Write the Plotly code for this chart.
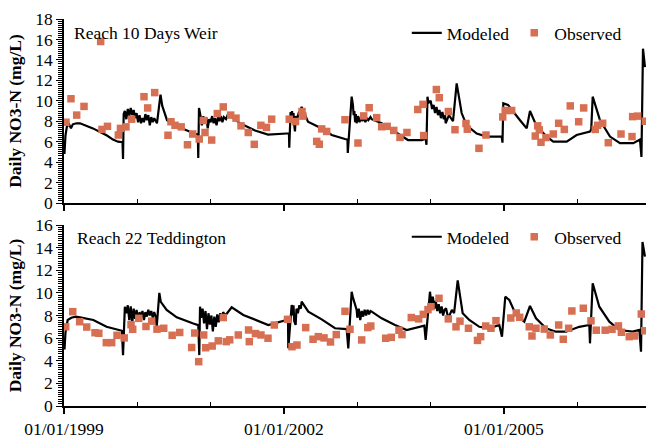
import plotly.graph_objects as go

# ---------------- data (decimal years, NO3-N mg/L) ----------------
# Reach 10 Days Weir - modeled
top_model_year = [
    1999.000, 1999.006, 1999.020, 1999.040, 1999.070, 1999.095, 1999.120, 1999.170, 1999.218,
    1999.395, 1999.586, 1999.668, 1999.736, 1999.798, 1999.805, 1999.814,
    1999.83, 1999.85, 1999.87, 1999.89, 1999.91, 1999.93, 1999.95, 1999.97, 1999.99,
    2000.01, 2000.03, 2000.05, 2000.07, 2000.09, 2000.11, 2000.13, 2000.15, 2000.17,
    2000.19, 2000.21, 2000.23, 2000.25, 2000.268, 2000.316, 2000.34, 2000.405, 2000.541,
    2000.759, 2000.825, 2000.831, 2000.841,
    2000.86, 2000.88, 2000.90, 2000.92, 2000.94, 2000.96, 2000.98, 2001.00, 2001.02,
    2001.04, 2001.06, 2001.08, 2001.10, 2001.12, 2001.14, 2001.16, 2001.18, 2001.21,
    2001.236, 2001.40, 2001.605, 2001.782, 2002.037, 2002.068, 2002.072, 2002.082,
    2002.09, 2002.10, 2002.11, 2002.12, 2002.13, 2002.14, 2002.15, 2002.16, 2002.18,
    2002.20, 2002.22, 2002.241, 2002.327, 2002.514, 2002.651, 2002.832, 2002.866, 2002.870,
    2002.923, 2002.94, 2002.95, 2002.96, 2002.97, 2002.98, 2002.99, 2003.01, 2003.03,
    2003.05, 2003.07, 2003.09, 2003.11, 2003.13, 2003.15, 2003.18, 2003.196, 2003.332,
    2003.514, 2003.691, 2003.878, 2003.932, 2003.943, 2003.957, 2003.97, 2004.00, 2004.02,
    2004.04, 2004.06, 2004.08, 2004.10, 2004.12, 2004.14, 2004.16, 2004.18, 2004.196,
    2004.205, 2004.25, 2004.305, 2004.355, 2004.423, 2004.491, 2004.628, 2004.764, 2004.969,
    2004.980, 2004.991, 2005.055, 2005.219, 2005.310, 2005.355, 2005.446, 2005.583, 2005.673,
    2005.855, 2005.991, 2006.173, 2006.190, 2006.210, 2006.310, 2006.446, 2006.582, 2006.764,
    2006.855, 2006.875, 2006.896, 2006.923,
]
top_model_no3 = [
    6.0, 4.8, 6.6, 7.5, 7.7, 7.3, 7.7, 7.8, 7.8,
    7.3, 6.6, 6.2, 6.0, 5.95, 4.3, 8.7,
    9.0, 8.2, 9.2, 8.5, 9.3, 8.6, 9.1, 8.3, 8.8,
    7.9, 8.6, 7.8, 8.3, 7.9, 8.7, 8.1, 8.6, 7.6,
    8.4, 7.9, 8.3, 8.0, 7.8, 10.6, 9.5, 8.1, 7.5,
    6.85, 6.7, 4.4, 9.3,
    8.6, 7.6, 8.5, 7.8, 8.4, 7.3, 8.2, 7.9, 8.5,
    7.8, 8.3, 7.6, 8.4, 8.0, 8.5, 7.9, 8.4, 8.2,
    8.7, 7.8, 7.1, 6.7, 6.8, 6.8, 5.4, 8.7,
    8.9, 8.3, 9.0, 8.4, 8.8, 7.6, 7.0, 8.5, 8.2,
    8.8, 9.0, 9.4, 7.95, 7.3, 6.65, 6.26, 6.2, 4.9,
    10.4, 9.6, 8.6, 9.0, 7.9, 8.7, 7.8, 8.5, 7.9,
    8.4, 8.0, 8.5, 7.9, 8.3, 8.1, 8.4, 8.2, 7.8,
    7.0, 6.16, 6.16, 6.3, 5.7, 10.4, 9.8, 10.0, 9.2,
    9.6, 8.8, 9.4, 8.6, 9.1, 8.3, 8.9, 8.2, 8.6,
    7.8, 8.6, 8.0, 11.7, 8.8, 7.6, 6.8, 6.5, 6.5,
    5.9, 9.75, 9.6, 8.1, 7.3, 9.0, 7.5, 6.5, 6.0,
    6.0, 6.65, 7.0, 7.2, 10.4, 8.1, 6.5, 5.85, 5.85,
    6.2, 4.5, 15.1, 13.3,
]
# Reach 10 Days Weir - observed
top_obs_year = [
    1999.027, 1999.095, 1999.173, 1999.273, 1999.500, 1999.518, 1999.593, 1999.741, 1999.770,
    1999.845, 1999.923, 2000.091, 2000.141, 2000.237, 2000.418, 2000.459, 2000.514, 2000.598,
    2000.684, 2000.755, 2000.844, 2000.900, 2000.923, 2001.014, 2001.091, 2001.172, 2001.273,
    2001.346, 2001.414, 2001.513, 2001.595, 2001.685, 2001.761, 2001.832, 2002.072, 2002.157,
    2002.246, 2002.259, 2002.446, 2002.482, 2002.514, 2002.582, 2002.832, 2003.009, 2003.087,
    2003.162, 2003.264, 2003.332, 2003.407, 2003.497, 2003.582, 2003.677, 2003.825, 2003.896,
    2003.905, 2004.078, 2004.118, 2004.242, 2004.332, 2004.482, 2004.500, 2004.659, 2004.755,
    2004.983, 2005.017, 2005.105, 2005.427, 2005.460, 2005.482, 2005.505, 2005.573, 2005.673,
    2005.746, 2005.823, 2005.904, 2006.019, 2006.087, 2006.245, 2006.278, 2006.346, 2006.423,
    2006.596, 2006.746, 2006.755, 2006.823, 2006.927,
]
top_obs_no3 = [
    7.9, 10.2, 8.6, 9.45, 15.8, 7.2, 7.5, 6.65, 7.3,
    7.45, 8.2, 10.4, 9.3, 10.8, 6.63, 7.95, 7.6, 7.45,
    5.7, 6.75, 6.26, 8.07, 6.9, 6.16, 8.75, 9.4, 8.6,
    8.3, 7.55, 6.9, 5.74, 7.6, 7.4, 8.2, 8.2, 7.97,
    8.95, 8.5, 6.03, 5.75, 7.25, 7.0, 8.15, 5.87, 8.52,
    9.32, 8.35, 7.46, 7.5, 7.1, 6.42, 6.9, 9.15, 9.65,
    6.6, 11.1, 10.3, 8.95, 7.17, 7.78, 7.22, 5.35, 6.65,
    8.42, 9.05, 9.05, 6.55, 7.55, 7.15, 5.94, 6.4, 6.75,
    7.8, 7.2, 9.5, 7.95, 9.3, 7.2, 7.6, 7.8, 5.9,
    6.75, 6.5, 8.45, 8.5, 8.0,
]

# Reach 22 Teddington - modeled
bot_model_year = [
    1999.000, 1999.007, 1999.020, 1999.050, 1999.100, 1999.160, 1999.220, 1999.400, 1999.580,
    1999.740, 1999.790, 1999.805, 1999.830,
    1999.85, 1999.87, 1999.89, 1999.91, 1999.93, 1999.95, 1999.97, 1999.99, 2000.01,
    2000.03, 2000.05, 2000.07, 2000.09, 2000.11, 2000.13, 2000.15, 2000.17, 2000.19,
    2000.21, 2000.23, 2000.25, 2000.264, 2000.300, 2000.32, 2000.400, 2000.537, 2000.763,
    2000.831, 2000.845, 2000.855,
    2000.87, 2000.89, 2000.91, 2000.93, 2000.95, 2000.97, 2000.99, 2001.01, 2001.03,
    2001.05, 2001.07, 2001.09, 2001.11, 2001.13, 2001.15, 2001.17, 2001.20, 2001.287,
    2001.445, 2001.673, 2001.786, 2002.037, 2002.055, 2002.059, 2002.105,
    2002.12, 2002.13, 2002.14, 2002.159, 2002.17, 2002.19, 2002.21, 2002.23, 2002.241,
    2002.332, 2002.514, 2002.696, 2002.855, 2002.877, 2002.923, 2002.94, 2002.991,
    2003.00, 2003.02, 2003.04, 2003.06, 2003.08, 2003.10, 2003.12, 2003.14, 2003.16,
    2003.18, 2003.196, 2003.332, 2003.514, 2003.673, 2003.878, 2003.914, 2003.932, 2003.991,
    2004.01, 2004.03, 2004.05, 2004.07, 2004.09, 2004.11, 2004.13, 2004.15, 2004.17,
    2004.19, 2004.21, 2004.24, 2004.26, 2004.29, 2004.32, 2004.369, 2004.437, 2004.527,
    2004.664, 2004.800, 2004.936, 2004.973, 2005.018, 2005.073, 2005.164, 2005.277, 2005.355,
    2005.437, 2005.573, 2005.709, 2005.846, 2006.027, 2006.164, 2006.173, 2006.210, 2006.300,
    2006.437, 2006.573, 2006.755, 2006.846, 2006.869, 2006.889, 2006.923,
]
bot_model_no3 = [
    5.8, 5.0, 6.5, 7.6, 7.8, 7.9, 7.84, 7.6, 7.0,
    6.72, 6.65, 4.5, 8.78,
    8.2, 8.9, 7.6, 8.8, 7.3, 8.6, 7.7, 8.5, 7.5,
    8.3, 7.8, 8.4, 7.6, 8.3, 7.9, 8.5, 8.0, 8.4,
    7.8, 8.3, 7.9, 7.0, 10.0, 9.2, 8.5, 7.84, 7.3,
    7.15, 4.5, 8.78,
    7.8, 8.6, 7.3, 8.4, 6.8, 8.2, 7.2, 8.0, 6.6,
    7.9, 7.0, 8.1, 7.4, 8.2, 7.6, 8.3, 8.0, 8.73,
    8.05, 7.45, 7.16, 7.6, 7.5, 5.1, 8.93,
    8.0, 8.9, 7.5, 7.16, 8.6, 8.2, 8.9, 8.6, 9.22,
    8.34, 7.66, 6.87, 6.8, 5.1, 10.1, 9.6, 8.5,
    7.8, 8.6, 7.6, 8.4, 7.9, 8.5, 8.0, 8.5, 8.1,
    8.4, 8.34, 7.75, 7.16, 6.72, 7.0, 7.1, 5.84, 10.1,
    9.0, 9.66, 8.6, 9.3, 8.4, 9.0, 8.2, 8.8, 8.0,
    8.5, 8.64, 7.75, 8.05, 8.5, 8.2, 11.1, 8.2, 7.6,
    7.0, 6.87, 7.16, 6.13, 9.66, 9.37, 8.05, 7.45, 8.84,
    7.75, 6.87, 6.57, 6.57, 7.0, 7.16, 5.54, 10.85, 8.78,
    7.45, 6.72, 6.57, 6.72, 4.8, 14.5, 13.2,
]
# Reach 22 Teddington - observed
bot_obs_year = [
    1999.023, 1999.119, 1999.213, 1999.310, 1999.423, 1999.475, 1999.577, 1999.650, 1999.723,
    1999.821, 1999.914, 1999.937, 2000.020, 2000.118, 2000.196, 2000.268, 2000.360, 2000.475,
    2000.578, 2000.741, 2000.782, 2000.837, 2000.905, 2000.932, 2001.021, 2001.104, 2001.172,
    2001.213, 2001.260, 2001.377, 2001.517, 2001.527, 2001.611, 2001.686, 2001.782, 2001.868,
    2002.048, 2002.109, 2002.177, 2002.296, 2002.396, 2002.468, 2002.546, 2002.634, 2002.713,
    2002.832, 2002.900, 2003.060, 2003.143, 2003.184, 2003.387, 2003.464, 2003.568, 2003.609,
    2003.736, 2003.836, 2003.900, 2003.964, 2004.005, 2004.114, 2004.241, 2004.346, 2004.400,
    2004.516, 2004.639, 2004.682, 2004.751, 2004.823, 2004.891, 2005.093, 2005.168, 2005.214,
    2005.345, 2005.382, 2005.437, 2005.550, 2005.632, 2005.746, 2005.809, 2005.882, 2005.926,
    2006.082, 2006.187, 2006.259, 2006.380, 2006.473, 2006.561, 2006.601, 2006.709, 2006.782,
    2006.873, 2006.919,
]
bot_obs_no3 = [
    7.0, 8.34, 7.45, 6.98, 6.48, 6.43, 5.6, 5.6, 6.25,
    6.02, 7.19, 6.78, 7.75, 7.03, 7.5, 6.79, 6.87, 6.25,
    6.5, 5.17, 6.45, 3.92, 6.28, 5.15, 5.3, 5.76, 7.82,
    5.69, 5.85, 6.28, 6.72, 5.69, 6.4, 6.28, 5.99, 7.16,
    7.66, 5.24, 5.39, 6.93, 5.9, 6.13, 6.02, 5.66, 6.31,
    8.37, 6.78, 5.84, 6.93, 7.07, 5.99, 6.07, 6.7, 6.31,
    7.82, 7.7, 8.1, 8.52, 8.78, 9.52, 7.7, 7.0, 7.5,
    6.87, 5.8, 6.13, 7.07, 6.87, 7.54, 7.78, 8.22, 7.84,
    7.0, 6.19, 6.87, 6.8, 6.28, 7.16, 5.9, 6.87, 8.4,
    8.64, 7.53, 6.7, 6.7, 6.78, 7.08, 6.52, 6.13, 6.19,
    8.13, 6.65,
]

panel_titles = ["Reach 10 Days Weir", "Reach 22 Teddington"]
x_tick_years = [1999, 2002, 2005]
x_tick_labels = ["01/01/1999", "01/01/2002", "01/01/2005"]
x_minor_years = [2000, 2001, 2003, 2004, 2006]
y_title = "Daily NO3-N (mg/L)"

# ---------------- style ----------------
FONT = "Liberation Serif, DejaVu Serif, serif"
FS = 17.5
LINE_COLOR = "black"
OBS_COLOR = "#D76F52"
X_RANGE = [1999.0, 2006.937]

fig = go.Figure()
fig.add_trace(go.Scatter(x=top_model_year, y=top_model_no3, mode="lines", name="Modeled",
                         line=dict(color=LINE_COLOR, width=2.2), xaxis="x", yaxis="y", legend="legend"))
fig.add_trace(go.Scatter(x=top_obs_year, y=top_obs_no3, mode="markers", name="Observed",
                         marker=dict(symbol="square", size=7.5, color=OBS_COLOR), xaxis="x", yaxis="y",
                         legend="legend"))
fig.add_trace(go.Scatter(x=bot_model_year, y=bot_model_no3, mode="lines", name="Modeled",
                         line=dict(color=LINE_COLOR, width=2.2), xaxis="x2", yaxis="y2", legend="legend2"))
fig.add_trace(go.Scatter(x=bot_obs_year, y=bot_obs_no3, mode="markers", name="Observed",
                         marker=dict(symbol="square", size=7.5, color=OBS_COLOR), xaxis="x2", yaxis="y2",
                         legend="legend2"))

common_x = dict(range=X_RANGE, showline=True, linecolor="black", linewidth=1.5, showgrid=False,
                zeroline=False, tickmode="array", tickvals=x_tick_years, ticktext=x_tick_labels,
                ticks="outside", ticklen=6, tickwidth=1.5, tickcolor="black",
                minor=dict(tickmode="array", tickvals=x_minor_years, ticks="inside", ticklen=4,
                           tickwidth=1.2, tickcolor="black"),
                tickfont=dict(family=FONT, size=FS, color="black"), automargin=False)
common_y = dict(showline=True, linecolor="black", linewidth=1.5, showgrid=False, zeroline=False,
                dtick=2, tick0=0, ticks="outside", ticklen=6, tickwidth=1.3, tickcolor="black",
                minor=dict(dtick=0.2, ticks="outside", ticklen=4, tickwidth=1, tickcolor="black"),
                tickfont=dict(family=FONT, size=FS, color="black"), automargin=False,
                title=dict(text="<b>" + y_title + "</b>", font=dict(family=FONT, size=FS, color="black"),
                           standoff=9))

fig.update_layout(
    width=646, height=439,
    margin=dict(l=64, r=0, t=19, b=33),
    paper_bgcolor="white", plot_bgcolor="white",
    font=dict(family=FONT, size=FS, color="black"),
    xaxis=dict(common_x, anchor="y", showticklabels=False),
    yaxis=dict(common_y, anchor="x", domain=[0.5245, 1.0], range=[0, 18]),
    xaxis2=dict(common_x, anchor="y2"),
    yaxis2=dict(common_y, anchor="x2", domain=[0.0, 0.4677], range=[0, 16]),
    legend=dict(orientation="h", x=0.967, xanchor="right", y=0.964, yanchor="middle",
                font=dict(family=FONT, size=FS), bgcolor="rgba(0,0,0,0)", itemwidth=30,
                tracegroupgap=0),
    legend2=dict(orientation="h", x=0.967, xanchor="right", y=0.437, yanchor="middle",
                 font=dict(family=FONT, size=FS), bgcolor="rgba(0,0,0,0)", itemwidth=30,
                 tracegroupgap=0),
    showlegend=True,
    annotations=[
        dict(text=panel_titles[0], xref="x domain", yref="y domain", x=0.014, y=0.924,
             xanchor="left", yanchor="middle", showarrow=False, font=dict(family=FONT, size=FS)),
        dict(text=panel_titles[1], xref="x2 domain", yref="y2 domain", x=0.019, y=0.928,
             xanchor="left", yanchor="middle", showarrow=False, font=dict(family=FONT, size=FS)),
    ],
)

# remove the default page margin so the 646x439 figure sits exactly in the window
fig.write_html("out.html", config={"displayModeBar": False},
               post_script="document.body.style.margin='0';document.body.style.overflow='hidden';")
